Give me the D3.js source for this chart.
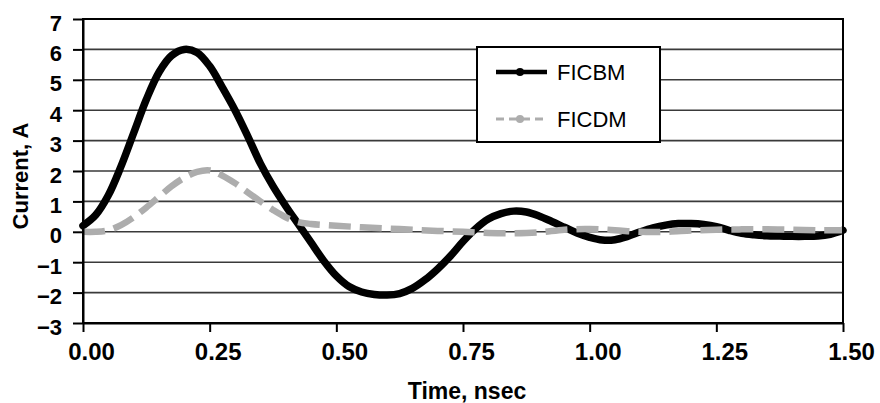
<!DOCTYPE html>
<html>
<head>
<meta charset="utf-8">
<script src="https://cdn.jsdelivr.net/npm/d3@7"></script>
<style>
  html, body { margin: 0; padding: 0; background: #fff; }
  svg { display: block; }
  text { font-family: "Liberation Sans", Arial, Helvetica, sans-serif; }
</style>
</head>
<body>
<div id="chart"></div>
<script>
// ---- data ----
const seriesNames = ["FICBM", "FICDM"];
const xTicks = [0, 0.25, 0.5, 0.75, 1.0, 1.25, 1.5];
const yTicks = [-3, -2, -1, 0, 1, 2, 3, 4, 5, 6, 7];

const ficbmTime = [0, 0.025, 0.05, 0.075, 0.1, 0.125, 0.15, 0.175, 0.2, 0.225, 0.25, 0.275, 0.3, 0.325, 0.35, 0.375, 0.4, 0.425, 0.45, 0.475, 0.5, 0.525, 0.55, 0.575, 0.6, 0.625, 0.65, 0.675, 0.7, 0.725, 0.75, 0.775, 0.8, 0.825, 0.85, 0.875, 0.9, 0.925, 0.95, 0.975, 1.0, 1.025, 1.05, 1.075, 1.1, 1.125, 1.15, 1.175, 1.2, 1.225, 1.25, 1.275, 1.3, 1.325, 1.35, 1.375, 1.4, 1.425, 1.45, 1.475, 1.5];
const ficbmValue = [0.2, 0.55, 1.2, 2.15, 3.25, 4.35, 5.25, 5.8, 6.0, 5.9, 5.45, 4.75, 4.0, 3.15, 2.25, 1.5, 0.85, 0.25, -0.35, -0.95, -1.45, -1.8, -1.98, -2.06, -2.08, -2.03, -1.86, -1.58, -1.22, -0.8, -0.32, 0.1, 0.42, 0.6, 0.68, 0.65, 0.52, 0.34, 0.15, -0.04, -0.18, -0.27, -0.26, -0.15, 0.0, 0.13, 0.22, 0.27, 0.27, 0.24, 0.17, 0.05, -0.05, -0.1, -0.13, -0.14, -0.15, -0.15, -0.14, -0.08, 0.05];

const ficdmTime = [0, 0.025, 0.05, 0.075, 0.1, 0.125, 0.15, 0.175, 0.2, 0.225, 0.25, 0.275, 0.3, 0.325, 0.35, 0.375, 0.4, 0.425, 0.45, 0.5, 0.55, 0.6, 0.65, 0.7, 0.75, 0.8, 0.85, 0.9, 0.95, 1.0, 1.05, 1.1, 1.15, 1.2, 1.25, 1.3, 1.35, 1.4, 1.45, 1.5];
const ficdmValue = [0.0, 0.0, 0.05, 0.22, 0.48, 0.8, 1.15, 1.5, 1.78, 1.97, 2.02, 1.85, 1.6, 1.3, 1.0, 0.72, 0.48, 0.32, 0.26, 0.2, 0.15, 0.11, 0.07, 0.03, 0.0, -0.04, -0.05, -0.02, 0.07, 0.09, 0.05, 0.0, 0.0, 0.04, 0.07, 0.08, 0.08, 0.07, 0.05, 0.05];

// ---- layout ----
const W = 880, H = 403;
const mLeft = 83, mRight = 843, mTop = 19, mBottom = 323;

const svg = d3.select("#chart").append("svg").attr("width", W).attr("height", H);

const x = d3.scaleLinear().domain([0, 1.5]).range([mLeft, mRight]);
const y = d3.scaleLinear().domain([-3, 7]).range([mBottom, mTop]);

// gridlines
svg.append("g").selectAll("line")
  .data(yTicks.filter(d => d > -3 && d < 7))
  .join("line")
  .attr("x1", mLeft).attr("x2", mRight)
  .attr("y1", d => y(d)).attr("y2", d => y(d))
  .attr("stroke", "#3a3a3a").attr("stroke-width", 1.6);

// series
const ficbm = ficbmTime.map((t, i) => [t, ficbmValue[i]]);
const ficdm = ficdmTime.map((t, i) => [t, ficdmValue[i]]);
const line = d3.line().x(d => x(d[0])).y(d => y(d[1])).curve(d3.curveCatmullRom.alpha(0.5));

svg.append("path").datum(ficbm)
  .attr("d", line).attr("fill", "none")
  .attr("stroke", "#000").attr("stroke-width", 7.5)
  .attr("stroke-linejoin", "round").attr("stroke-linecap", "round");

svg.append("path").datum(ficdm)
  .attr("d", line).attr("fill", "none")
  .attr("stroke", "#adadad").attr("stroke-width", 6.5)
  .attr("stroke-dasharray", "22,9");

// frame
svg.append("rect").attr("x", mLeft).attr("y", mTop)
  .attr("width", mRight - mLeft).attr("height", mBottom - mTop)
  .attr("fill", "none").attr("stroke", "#000").attr("stroke-width", 2);

// axes
const xAxis = d3.axisBottom(x).tickValues(xTicks).tickFormat(d3.format(".2f")).tickSize(9).tickSizeOuter(0);
const gx = svg.append("g").attr("transform", `translate(0,${mBottom})`).call(xAxis);
gx.select(".domain").attr("stroke", "#000").attr("stroke-width", 2);
gx.selectAll(".tick line").attr("stroke", "#000").attr("stroke-width", 2);
gx.selectAll(".tick text")
  .attr("y", 37).attr("dy", 0).attr("x", 8)
  .attr("fill", "#000")
  .style("font-size", "24px").style("font-weight", "bold");

const yAxis = d3.axisLeft(y).tickValues(yTicks).tickFormat(d3.format("d")).tickSize(10).tickSizeOuter(0);
const gy = svg.append("g").attr("transform", `translate(${mLeft},0)`).call(yAxis);
gy.select(".domain").attr("stroke", "#000").attr("stroke-width", 2);
gy.selectAll(".tick line").attr("stroke", "#000").attr("stroke-width", 2);
gy.selectAll(".tick text")
  .attr("x", -21).attr("dy", 0).attr("y", 11)
  .attr("fill", "#000")
  .style("font-size", "22px").style("font-weight", "bold");

// axis titles
svg.append("text")
  .attr("x", 467).attr("y", 399)
  .attr("text-anchor", "middle")
  .style("font-size", "23px").style("font-weight", "bold")
  .text("Time, nsec");

svg.append("text")
  .attr("transform", "translate(28,176) rotate(-90)")
  .attr("text-anchor", "middle")
  .style("font-size", "22px").style("font-weight", "bold")
  .text("Current, A");

// legend
const lg = svg.append("g");
lg.append("rect").attr("x", 477).attr("y", 47).attr("width", 183).attr("height", 95)
  .attr("fill", "#fff").attr("stroke", "#000").attr("stroke-width", 2);

const legendRows = [
  { name: seriesNames[0], y: 72, color: "#000", width: 4.5, dash: null },
  { name: seriesNames[1], y: 119, color: "#adadad", width: 3, dash: "8,5" }
];
legendRows.forEach(r => {
  lg.append("line").attr("x1", 496).attr("x2", 547).attr("y1", r.y).attr("y2", r.y)
    .attr("stroke", r.color).attr("stroke-width", r.width)
    .attr("stroke-dasharray", r.dash);
  lg.append("circle").attr("cx", 520).attr("cy", r.y).attr("r", 4).attr("fill", r.color);
  lg.append("text").attr("x", 557).attr("y", r.y + 8)
    .style("font-size", "22px").attr("fill", "#000")
    .text(r.name);
});
</script>
</body>
</html>
